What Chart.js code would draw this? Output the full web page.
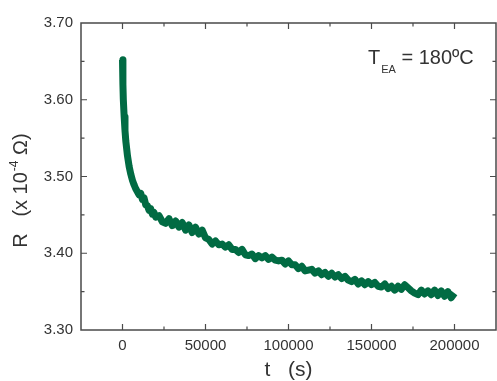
<!DOCTYPE html>
<html>
<head>
<meta charset="utf-8">
<script src="https://cdn.jsdelivr.net/npm/chart.js@4/dist/chart.umd.min.js"></script>
<style>
html,body{margin:0;padding:0;background:#fff;}
#wrap{width:497px;height:381px;position:relative;}
</style>
</head>
<body>
<div id="wrap"><canvas id="c" width="497" height="381"></canvas></div>
<script>
// ---- data ----
const tValues = [0,250,500,1000,1500,2000,3000,4000,5000,6000,7000,8000,9000,10000,11000,12000,13000,14000,15000,16000,17000,18000,19000,
20000,22000,24000,26000,28000,30000,32000,34000,36000,38000,40000,42000,44000,46000,48000,50000,
52000,54000,56000,58000,60000,62000,64000,66000,68000,70000,72000,74000,76000,78000,80000,
82000,84000,86000,88000,90000,92000,94000,96000,98000,100000,102000,104000,106000,108000,110000,
112000,114000,116000,118000,120000,122000,124000,126000,128000,130000,132000,134000,136000,138000,140000,
142000,144000,146000,148000,150000,152000,154000,156000,158000,160000,162000,164000,166000,168000,170000,
172000,174000,176000,178000,180000,182000,184000,186000,188000,190000,192000,194000,196000,198000,200000];
const rValues = [3.652,3.620,3.600,3.578,3.560,3.546,3.527,3.513,3.503,3.495,3.489,3.484,3.480,3.476,3.478,3.470,3.472,3.463,3.462,3.456,3.458,3.451,3.453,
3.447,3.449,3.441,3.439,3.445,3.436,3.442,3.434,3.440,3.430,3.437,3.427,3.434,3.425,3.430,3.420,
3.418,3.412,3.416,3.411,3.412,3.408,3.411,3.405,3.405,3.401,3.405,3.398,3.397,3.399,3.393,
3.397,3.394,3.397,3.392,3.395,3.391,3.390,3.391,3.386,3.390,3.385,3.385,3.380,3.383,3.377,
3.378,3.379,3.374,3.377,3.372,3.375,3.370,3.374,3.369,3.372,3.367,3.370,3.365,3.363,3.366,
3.360,3.364,3.359,3.363,3.359,3.362,3.357,3.356,3.360,3.354,3.357,3.352,3.357,3.353,3.359,
3.355,3.351,3.348,3.346,3.352,3.347,3.351,3.346,3.352,3.345,3.351,3.344,3.350,3.342,3.348];
const xTickValues = [0,50000,100000,150000,200000];
const xMinorValues = [-25000,25000,75000,125000,175000,225000];
const yTickValues = [3.30,3.40,3.50,3.60,3.70];
const yMinorValues = [3.35,3.45,3.55,3.65];
const xTitle = "t   (s)";
const yTitleMain = "R   (x 10";
const yTitleSup = "-4";
const yTitleEnd = " \u03A9)";
const annotMain = "T";
const annotSub = "EA";
const annotRest = " = 180\u00BAC";

const FONT = '"Liberation Sans", Arial, Helvetica, sans-serif';
const LINE_COLOR = '#016b43';
const AXIS_COLOR = '#4a4a4a';
const TEXT_COLOR = '#333333';

const framePlugin = {
  id: 'frame',
  afterDraw(chart) {
    const ctx = chart.ctx;
    const a = chart.chartArea;
    const xs = chart.scales.x, ys = chart.scales.y;
    ctx.save();
    ctx.strokeStyle = AXIS_COLOR;
    ctx.lineWidth = 1.5;
    ctx.strokeRect(a.left, a.top, a.right - a.left, a.bottom - a.top);
    ctx.lineWidth = 1.2;
    ctx.beginPath();
    const tickX = (v, len) => {
      const px = xs.getPixelForValue(v);
      if (px < a.left + 1 || px > a.right - 1) return;
      ctx.moveTo(px, a.bottom); ctx.lineTo(px, a.bottom - len);
      ctx.moveTo(px, a.top); ctx.lineTo(px, a.top + len);
    };
    const tickY = (v, len) => {
      const py = ys.getPixelForValue(v);
      if (py < a.top + 1 || py > a.bottom - 1) return;
      ctx.moveTo(a.left, py); ctx.lineTo(a.left + len, py);
      ctx.moveTo(a.right, py); ctx.lineTo(a.right - len, py);
    };
    xTickValues.forEach(v => tickX(v, 6));
    xMinorValues.forEach(v => tickX(v, 3.5));
    yTickValues.forEach(v => tickY(v, 6));
    yMinorValues.forEach(v => tickY(v, 3.5));
    ctx.stroke();

    // x title
    ctx.fillStyle = TEXT_COLOR;
    ctx.font = '21px ' + FONT;
    ctx.textAlign = 'center';
    ctx.textBaseline = 'alphabetic';
    ctx.fillText(xTitle, (a.left + a.right) / 2, 376);

    // y title (rotated)
    ctx.save();
    ctx.translate(27, 191);
    ctx.rotate(-Math.PI / 2);
    ctx.textAlign = 'left';
    const fMain = '20px ' + FONT, fSup = '12px ' + FONT;
    ctx.font = fMain; const w1 = ctx.measureText(yTitleMain).width;
    ctx.font = fSup; const w2 = ctx.measureText(yTitleSup).width;
    ctx.font = fMain; const w3 = ctx.measureText(yTitleEnd).width;
    let x0 = -(w1 + w2 + w3) / 2;
    ctx.font = fMain; ctx.fillText(yTitleMain, x0, 0);
    ctx.font = fSup; ctx.fillText(yTitleSup, x0 + w1 + 1, -9);
    ctx.font = fMain; ctx.fillText(yTitleEnd, x0 + w1 + w2 + 1, 0);
    ctx.restore();

    // annotation
    ctx.textAlign = 'left';
    ctx.font = '20px ' + FONT;
    const xa = 368;
    ctx.fillText(annotMain, xa, 64);
    const wT = ctx.measureText(annotMain).width;
    ctx.font = '11px ' + FONT;
    ctx.fillText(annotSub, xa + wT + 1, 73);
    const wS = ctx.measureText(annotSub).width;
    ctx.font = '20px ' + FONT;
    ctx.fillText(annotRest, xa + wT + wS + 1, 64);
    ctx.restore();
  }
};

new Chart(document.getElementById('c'), {
  type: 'line',
  data: {
    datasets: [{
      data: tValues.map((t, i) => ({x: t, y: rValues[i]})),
      borderColor: LINE_COLOR,
      borderWidth: 7,
      pointRadius: 0,
      tension: 0,
      borderJoinStyle: 'round',
      borderCapStyle: 'butt',
      fill: false
    }]
  },
  options: {
    responsive: false,
    animation: false,
    devicePixelRatio: 1,
    layout: {padding: {top: 23, right: 1, left: 0, bottom: 0}},
    plugins: {legend: {display: false}, tooltip: {enabled: false}},
    scales: {
      x: {
        type: 'linear',
        min: -25000, max: 225000,
        afterBuildTicks: s => { s.ticks = xTickValues.map(v => ({value: v})); },
        afterFit: s => { s.height = 51; },
        grid: {display: false, drawTicks: false},
        border: {display: false},
        ticks: {font: {family: FONT, size: 15}, color: TEXT_COLOR, padding: 7, maxRotation: 0,
          callback: v => String(v)}
      },
      y: {
        type: 'linear',
        min: 3.30, max: 3.70,
        afterBuildTicks: s => { s.ticks = yTickValues.map(v => ({value: v})); },
        afterFit: s => { s.width = 81; },
        grid: {display: false, drawTicks: false},
        border: {display: false},
        ticks: {font: {family: FONT, size: 15}, color: TEXT_COLOR, padding: 8,
          callback: v => Number(v).toFixed(2)}
      }
    }
  },
  plugins: [framePlugin]
});
</script>
</body>
</html>
